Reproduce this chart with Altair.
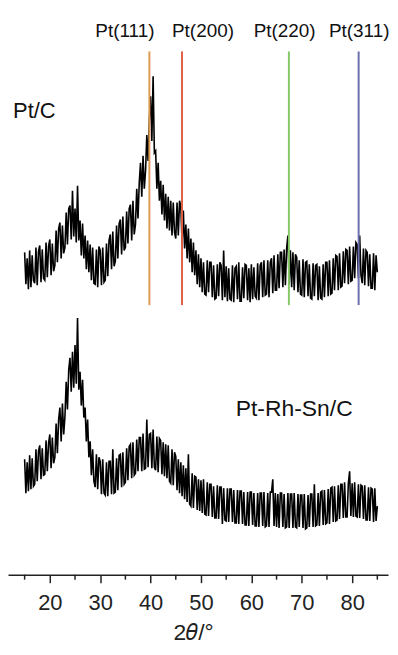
import altair as alt
import pandas as pd

# 2theta sampling: 15.00 .. 85.00 deg, every 0.25 deg
theta_start = 15.0
theta_step = 0.25

# Pt/C pattern (arbitrary intensity units)
pt_c = [
    328, 296, 322, 291,  330, 293, 325, 300,  297, 333, 295, 329,  335, 298, 331, 302,
    300, 338, 303, 334,  341, 305, 337, 309,  315, 350, 318, 352,  358, 322, 355, 327,
    333, 368, 336, 372,  375, 341, 390, 344,  372, 338, 395, 340,  360, 325, 357, 322,
    345, 311, 340, 308,  336, 300, 333, 297,  296, 331, 293, 334,  330, 295, 333, 298,
    300, 337, 304, 340,  346, 311, 349, 314,  319, 355, 322, 357,  361, 326, 364, 330,
    333, 369, 337, 372,  376, 340, 380, 346,  356, 392, 362, 398,  418, 384, 425, 392,
    410, 446, 420, 462,  485, 440, 505, 428,  430, 392, 418, 380,  400, 366, 396, 360,
    387, 352, 384, 350,  380, 345, 378, 348,  342, 378, 345, 380,  374, 338, 370, 332,
    356, 322, 352, 318,  342, 308, 338, 305,  330, 296, 326, 293,  322, 288, 318, 286,
    285, 320, 288, 318,  318, 283, 315, 281,  282, 316, 284, 318,  315, 280, 330, 283,
    314, 279, 312, 281,  280, 315, 278, 312,  314, 281, 318, 279,  279, 313, 282, 316,
    315, 280, 312, 278,  316, 281, 313, 284,  282, 317, 280, 315,  318, 283, 320, 285,
    286, 320, 283, 318,  322, 287, 325, 290,  290, 326, 292, 328,  328, 293, 331, 295,
    332, 345, 296, 330,  293, 328, 290, 326,  323, 288, 320, 286,  285, 321, 283, 318,
    319, 284, 316, 282,  281, 317, 284, 315,  316, 280, 314, 282,  281, 316, 283, 318,
    318, 284, 320, 286,  287, 322, 290, 325,  324, 290, 327, 293,  294, 329, 297, 331,
    330, 296, 334, 299,  300, 334, 302, 338,  336, 302, 345, 305,  297, 332, 295, 330,
    328, 294, 326, 292,  292, 327, 290, 325,  308,
]

# Pt-Rh-Sn/C pattern
pt_rh_sn_c = [
    120, 86, 117, 88,  124, 90, 121, 93,  95, 130, 98, 128,  134, 100, 131, 104,
    105, 139, 108, 136,  145, 111, 142, 116,  122, 156, 126, 160,  172, 138, 176, 145,
    163, 198, 170, 210,  222, 188, 228, 192,  235, 196, 262, 190,  208, 174, 200, 162,
    172, 138, 160, 122,  138, 104, 130, 98,  92, 125, 90, 122,  118, 85, 120, 86,
    84, 117, 83, 118,  118, 85, 130, 86,  87, 121, 89, 124,  125, 92, 127, 95,
    97, 131, 99, 133,  135, 101, 137, 104,  106, 140, 108, 142,  142, 108, 146, 110,
    111, 160, 112, 145,  146, 111, 150, 112,  109, 143, 107, 141,  139, 105, 137, 103,
    135, 101, 134, 98,  96, 130, 94, 127,  123, 89, 120, 86,  117, 83, 114, 80,
    111, 77, 125, 75,  73, 106, 71, 103,  102, 69, 100, 68,  99, 66, 100, 65,
    64, 97, 63, 95,  95, 62, 93, 61,  61, 94, 60, 92,  92, 55, 91, 59,
    58, 91, 57, 90,  90, 57, 89, 56,  56, 89, 55, 88,  88, 55, 87, 54,
    54, 87, 53, 87,  87, 54, 86, 53,  53, 86, 52, 86,  86, 53, 87, 52,
    53, 86, 52, 87,  87, 100, 53, 86,  52, 85, 51, 86,  86, 52, 85, 51,
    52, 86, 51, 85,  85, 51, 86, 52,  51, 85, 52, 84,  84, 51, 85, 50,
    51, 84, 52, 85,  85, 52, 95, 53,  54, 86, 53, 87,  88, 54, 89, 55,
    56, 90, 55, 91,  92, 57, 93, 58,  59, 94, 60, 95,  95, 61, 97, 62,
    62, 96, 108, 63,  96, 62, 97, 63,  62, 95, 61, 94,  93, 60, 94, 59,
    59, 92, 58, 91,  90, 57, 91, 58,  73,
]

series_names = ["Pt/C", "Pt-Rh-Sn/C"]
series_label_x = [12.7, 56.9]
series_label_y = [470, 171]
series_label_size = [22, 23]

peak_names = ["Pt(111)", "Pt(200)", "Pt(220)", "Pt(311)"]
peak_pos = [39.76, 46.24, 67.45, 81.29]
peak_label_x = [34.9, 50.4, 66.6, 81.4]
peak_label_y = [551, 551, 551, 551]
peak_line_top = [530, 530, 530, 530]
peak_line_bottom = [275, 275, 275, 275]
peak_colors = ["#DE9A52", "#DE5E46", "#86C96A", "#6C72AE"]

major_ticks = [20, 30, 40, 50, 60, 70, 80]
minor_ticks = [15, 25, 35, 45, 55, 65, 75, 85]

x_domain = [11.7, 87.12]
y_domain = [4, 572]
FONT = "Liberation Sans"

rows = []
for name, vals in zip(series_names, [pt_c, pt_rh_sn_c]):
    for i, v in enumerate(vals):
        rows.append({"theta": theta_start + i * theta_step, "I": v, "series": name})
df = pd.DataFrame(rows)

peaks = pd.DataFrame({
    "name": peak_names, "pos": peak_pos, "lx": peak_label_x, "ly": peak_label_y,
    "top": peak_line_top, "bottom": peak_line_bottom, "color": peak_colors,
})
labels = pd.DataFrame({"name": series_names, "x": series_label_x, "y": series_label_y,
                       "fs": series_label_size})
minor = pd.DataFrame({"t": minor_ticks})

xscale = alt.Scale(domain=x_domain, nice=False, zero=False)
yscale = alt.Scale(domain=y_domain, nice=False, zero=False)

xaxis = alt.Axis(
    values=major_ticks, title="2𝜃/°", grid=False,
    domainColor="#222", domainWidth=1.5, tickColor="#222", tickWidth=1.5, tickSize=8,
    labelFont=FONT, labelFontSize=22, labelColor="#222", labelPadding=10,
    titleFont=FONT, titleFontSize=23, titleFontWeight="normal", titleColor="#222",
    titleX=186, titleY=58, titleAlign="center", titleBaseline="middle",
)

traces = alt.Chart(df).mark_line(strokeWidth=1.6, color="black").encode(
    x=alt.X("theta:Q", scale=xscale, axis=xaxis),
    y=alt.Y("I:Q", scale=yscale, axis=None),
    detail="series:N",
)

minor_rules = alt.Chart(minor).mark_rule(color="#222", strokeWidth=1.5).encode(
    x=alt.X("t:Q", scale=xscale),
    y=alt.value(568), y2=alt.value(573),
)

peak_lines = alt.Chart(peaks).mark_rule(strokeWidth=2).encode(
    x=alt.X("pos:Q", scale=xscale),
    y=alt.Y("top:Q", scale=yscale), y2="bottom:Q",
    color=alt.Color("color:N", scale=None),
)

peak_text = alt.Chart(peaks).mark_text(font=FONT, fontSize=19, color="#111", align="center", baseline="middle").encode(
    x=alt.X("lx:Q", scale=xscale),
    y=alt.Y("ly:Q", scale=yscale),
    text="name:N",
)

series_text = alt.Chart(labels).mark_text(font=FONT, color="#111", align="left", baseline="middle").encode(
    x=alt.X("x:Q", scale=xscale),
    y=alt.Y("y:Q", scale=yscale),
    size=alt.Size("fs:Q", scale=None),
    text="name:N",
)

chart = alt.layer(traces, minor_rules, peak_lines, peak_text, series_text).properties(
    width=382, height=568,
    padding={"left": 0, "right": 0, "top": 0, "bottom": 0},
    autosize=alt.AutoSizeParams(type="pad"),
).configure_view(stroke=None)

chart.save("out.html", embed_options={"renderer": "svg", "actions": False, "padding": 0})
